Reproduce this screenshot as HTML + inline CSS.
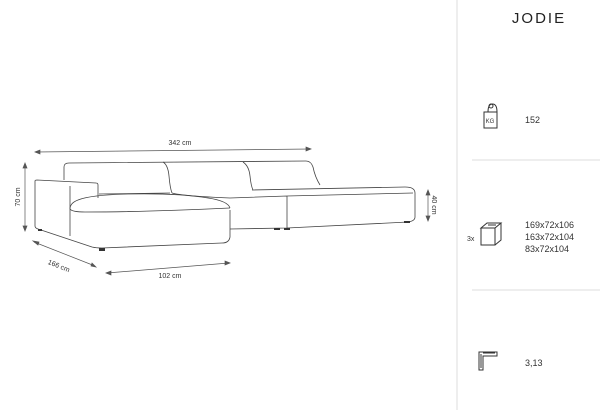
<!DOCTYPE html><html><head><style>body{margin:0;width:600px;height:410px;background:#fff;overflow:hidden;font-family:"Liberation Sans",sans-serif}</style></head><body>
<svg width="600" height="410" viewBox="0 0 600 410" xmlns="http://www.w3.org/2000/svg" font-family="Liberation Sans, sans-serif">
<line x1="457" y1="0" x2="457" y2="410" stroke="#ddd"/>
<line x1="472" y1="160" x2="600" y2="160" stroke="#ddd"/>
<line x1="472" y1="290" x2="600" y2="290" stroke="#ddd"/>
<text x="539" y="23" font-size="15" text-anchor="middle" letter-spacing="2" fill="#222">JODIE</text>
<g fill="none" stroke="#333" stroke-width="1">
<path d="M484 112 h13 v16 h-13 z M488 112 q0-8 4.5-8 q4.5 0 4.5 8"/><circle cx="491" cy="106" r="2"/>
<path d="M481 228 l6-5 h14 l-6 5 z M481 228 v17 h14 v-17 M495 245 l6-5 v-17 M488 225 l8 0"/>
<path d="M479 352 v18 h4 v-14 h14 v-4 z M481 354 v14 M483 353 h12"/>
</g>
<text x="490" y="123" font-size="6" text-anchor="middle" fill="#333">KG</text>
<text x="525" y="123" font-size="9" fill="#333">152</text>
<text x="467" y="241" font-size="7" fill="#333">3x</text>
<text x="525" y="228" font-size="9" fill="#333">169x72x106</text>
<text x="525" y="240" font-size="9" fill="#333">163x72x104</text>
<text x="525" y="252" font-size="9" fill="#333">83x72x104</text>
<text x="525" y="366" font-size="9" fill="#333">3,13</text>
<g fill="none" stroke="#444" stroke-width="0.8" stroke-linejoin="round">
<!-- back -->
<path d="M64 180 V167 q0-4 5-4 L306 161 q5 0 7 6 q2 10 7 18"/>
<path d="M163 162 q5 3 6 14 q1 12 3 17 M243 162 q6 4 7 14 q1 10 3 14"/>
<!-- arm -->
<path d="M35 181 q0-1 2-1 L96 183 q2 0 2 2 V198"/>
<path d="M35 181 V226 q0 2 3 3 L92 247 q4 1 10 1 L222 243 q7 0 8-6 V210"/>
<path d="M70 186 V236"/>
<!-- seat behind arm -->
<path d="M99 194 L170 193"/>
<!-- chaise top -->
<path d="M70 209 q0-6 8-9 q12-5 50-6 q50-1 80 4 q20 3 22 10"/>
<path d="M70 209 q2 3 15 3 q60 0 145 -4"/>
<!-- middle seat -->
<path d="M172 193 q10 3 58 5 L287 196 M230 229 L287 228 V196"/>
<!-- right seat -->
<path d="M252 190 L405 187 q10 0 10 6 V217 q0 4-7 5 L287 228"/>
<path d="M287 196 L413 193"/>
</g>
<g fill="#333"><rect x="99" y="248" width="6" height="3"/><rect x="274" y="228" width="6" height="2"/><rect x="284" y="228" width="6" height="2"/><rect x="404" y="221" width="6" height="2"/><rect x="38" y="229" width="4" height="2"/></g>
<g stroke="#555" stroke-width="0.7" fill="#555">
<line x1="36" y1="152" x2="310" y2="149"/><path d="M35 152 l5-2 v4z M311 149 l-5-2 v4z"/>
<line x1="25" y1="164" x2="25" y2="230"/><path d="M25 163 l-2 5 h4z M25 231 l-2-5 h4z"/>
<line x1="428" y1="191" x2="428" y2="220"/><path d="M428 190 l-2 5 h4z M428 221 l-2-5 h4z"/>
<line x1="34" y1="242" x2="95" y2="266"/><path d="M33 241 l5 4 l1-3z M96 267 l-5-1 l1-3z"/>
<line x1="107" y1="273" x2="229" y2="263"/><path d="M106 273 l5-2 v4z M230 263 l-5-2 v4z"/>
</g>
<g font-size="7" fill="#333">
<text x="180" y="145" text-anchor="middle">342 cm</text>
<text x="20" y="197" text-anchor="middle" transform="rotate(-90 20 197)">70 cm</text>
<text x="432" y="205" text-anchor="middle" transform="rotate(90 432 205)">40 cm</text>
<text x="58" y="268" text-anchor="middle" transform="rotate(22 58 268)">166 cm</text>
<text x="170" y="278" text-anchor="middle">102 cm</text>
</g>
</svg></body></html>
